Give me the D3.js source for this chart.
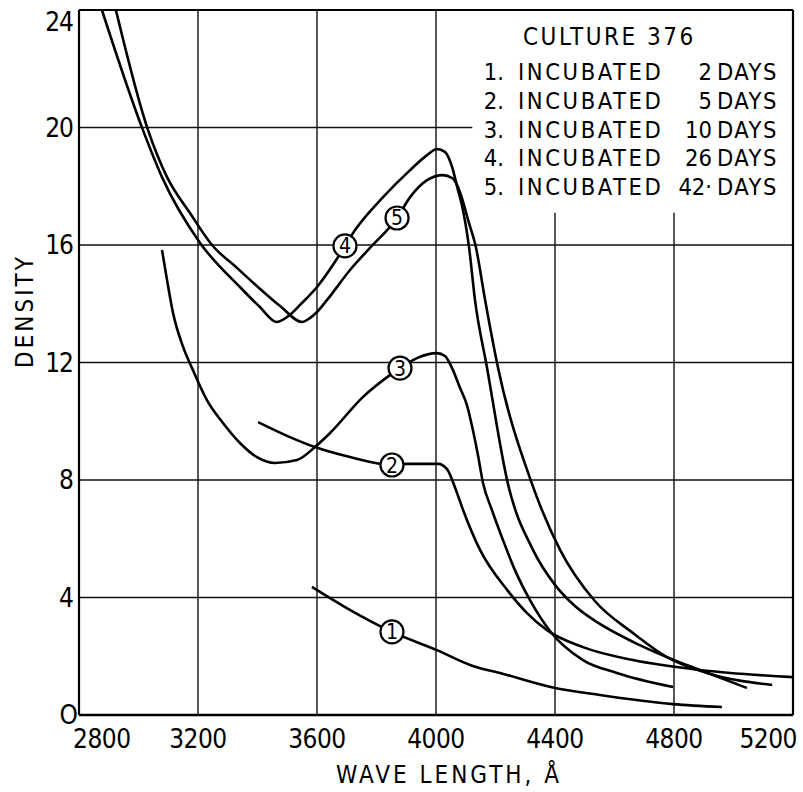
<!DOCTYPE html>
<html>
<head>
<meta charset="utf-8">
<script src="https://cdn.jsdelivr.net/npm/d3@7"></script>
<style>
  html, body { margin: 0; padding: 0; background: #fff; }
  svg { display: block; }
  text { font-family: "DejaVu Sans Condensed", "DejaVu Sans", sans-serif; fill: #000; }
</style>
</head>
<body>
<svg id="chart" width="803" height="792"></svg>
<script>
// ---- data ----
const waveTicks = [2800, 3200, 3600, 4000, 4400, 4800, 5200];
const waveTickLabels = ["2800", "3200", "3600", "4000", "4400", "4800", "5200"];
const densityTicks = [0, 4, 8, 12, 16, 20, 24];
const densityTickLabels = ["O", "4", "8", "12", "16", "20", "24"];

const curve1 = [[3583,4.36],[3700,3.64],[3852,2.83],[4003,2.21],[4124,1.67],[4215,1.43],[4400,0.92],[4551,0.68],[4797,0.37],[4961,0.27]];
const curve2 = [[3402,9.97],[3509,9.46],[3593,9.12],[3711,8.78],[3852,8.51],[3902,8.55],[4007,8.55],[4037,8.37],[4067,7.66],[4091,6.98],[4148,5.62],[4239,4.26],[4306,3.47],[4373,2.89],[4494,2.31],[4662,1.87],[4887,1.53],[5200,1.29]];
const curve3 = [[3079,15.83],[3096,14.8],[3116,13.69],[3150,12.53],[3183,11.74],[3230,10.72],[3284,9.94],[3341,9.26],[3398,8.78],[3459,8.58],[3533,8.68],[3593,9.12],[3644,9.6],[3755,10.83],[3845,11.57],[3879,11.81],[3936,12.15],[4003,12.32],[4030,12.22],[4054,11.81],[4081,11.13],[4104,10.55],[4124,9.7],[4141,8.85],[4158,7.9],[4188,6.98],[4225,5.96],[4265,4.94],[4316,3.91],[4383,2.86],[4494,1.87],[4608,1.43],[4797,0.95]];
const curve4 = [[2877,24],[3015,19.91],[3079,18.31],[3207,16.07],[3341,14.57],[3408,13.89],[3465,13.38],[3509,13.62],[3543,13.96],[3600,14.57],[3660,15.42],[3694,15.97],[3728,16.51],[3822,17.63],[3913,18.55],[3970,19.06],[4003,19.27],[4030,19.17],[4054,18.66],[4074,17.87],[4087,17.36],[4111,15.93],[4131,14.13],[4171,11.85],[4242,7.86],[4326,5.62],[4400,4.43],[4467,3.71],[4551,3.1],[4662,2.49],[4776,1.97],[4887,1.53],[5045,0.92]];
const curve5 = [[2924,24],[3032,19.91],[3096,18.31],[3173,17.09],[3247,16.0],[3331,15.22],[3398,14.6],[3476,13.92],[3550,13.38],[3576,13.51],[3600,13.72],[3634,14.13],[3711,15.15],[3778,15.9],[3869,16.92],[3913,17.63],[3970,18.21],[4023,18.38],[4054,18.28],[4074,17.97],[4087,17.6],[4108,16.85],[4134,15.93],[4165,14.13],[4208,11.85],[4323,7.86],[4417,5.62],[4534,3.88],[4662,2.79],[4776,1.97],[4911,1.43],[5130,1.02]];

const circleLabels = ["1", "2", "3", "4", "5"];
const circleWave = [3852, 3852, 3879, 3694, 3869];
const circleDensity = [2.83, 8.51, 11.81, 15.97, 16.92];

const legendTitle = "CULTURE 376";
const legendNumbers = ["1.", "2.", "3.", "4.", "5."];
const legendWord = "INCUBATED";
const legendDays = ["2", "5", "10", "26", "42·"];
const legendUnit = "DAYS";

const xTitle = "WAVE LENGTH, Å";
const yTitle = "DENSITY";

// ---- layout ----
const L = 79, R = 793, T = 10, B = 715;
const svg = d3.select("#chart");
const x = d3.scaleLinear().domain([2800, 5200]).range([L, R]);
const y = d3.scaleLinear().domain([0, 24]).range([B, T]);

const grid = svg.append("g").attr("stroke", "#111").attr("stroke-width", 1.4).attr("fill", "none");

// vertical grid lines (4400 and 4800 stop below the legend box)
const vStop = { 4400: 17.1, 4800: 17.1 };
waveTicks.slice(1, -1).forEach(t => {
  grid.append("line")
    .attr("x1", x(t)).attr("x2", x(t))
    .attr("y1", y(0)).attr("y2", y(vStop[t] !== undefined ? vStop[t] : 24));
});
// horizontal grid lines (20 stops at the legend)
const hStop = { 20: 4122 };
densityTicks.slice(1, -1).forEach(t => {
  grid.append("line")
    .attr("x1", x(2800)).attr("x2", x(hStop[t] !== undefined ? hStop[t] : 5200))
    .attr("y1", y(t)).attr("y2", y(t));
});

// frame
const frame = svg.append("g").attr("stroke", "#000").attr("fill", "none");
frame.append("line").attr("x1", x(2800)).attr("x2", x(5200)).attr("y1", y(24)).attr("y2", y(24)).attr("stroke-width", 2.2);
frame.append("line").attr("x1", x(2800)).attr("x2", x(5200)).attr("y1", y(0)).attr("y2", y(0)).attr("stroke-width", 2.6);
frame.append("line").attr("x1", x(2800)).attr("x2", x(2800)).attr("y1", y(0)).attr("y2", y(24)).attr("stroke-width", 2.2);
frame.append("line").attr("x1", x(5200)).attr("x2", x(5200)).attr("y1", y(0)).attr("y2", y(24)).attr("stroke-width", 2.2);

// tick labels
svg.append("g").selectAll("text").data(waveTicks).join("text")
  .attr("x", (d, i) => i === 0 ? x(d) - 6 : i === waveTicks.length - 1 ? x(d) + 4 : x(d))
  .attr("y", 748)
  .attr("text-anchor", (d, i) => i === 0 ? "start" : i === waveTicks.length - 1 ? "end" : "middle")
  .attr("style", "font-size:26px;letter-spacing:-0.5px")
  .text((d, i) => waveTickLabels[i]);

svg.append("g").selectAll("text").data(densityTicks).join("text")
  .attr("x", d => d === 0 ? 77 : 73)
  .attr("y", d => d === 24 ? y(d) + 21 : y(d) + 9)
  .attr("text-anchor", "end")
  .attr("style", "font-size:26px;letter-spacing:-1px")
  .text((d, i) => densityTickLabels[i]);

// axis titles
svg.append("text").attr("x", 449).attr("y", 783).attr("text-anchor", "middle")
  .attr("style", "font-size:24px;letter-spacing:3px").text(xTitle);
svg.append("text").attr("transform", "translate(33,311) rotate(-90)").attr("text-anchor", "middle")
  .attr("style", "font-size:24px;letter-spacing:3px").text(yTitle);

// curves
svg.append("clipPath").attr("id", "plotClip").append("rect")
  .attr("x", L).attr("y", T).attr("width", R - L).attr("height", B - T);
const line = d3.line().x(d => x(d[0])).y(d => y(d[1])).curve(d3.curveMonotoneX);
const curves = [curve1, curve2, curve3, curve4, curve5];
svg.append("g").attr("clip-path", "url(#plotClip)")
  .selectAll("path").data(curves).join("path")
  .attr("d", line)
  .attr("fill", "none").attr("stroke", "#000").attr("stroke-width", 2.6)
  .attr("stroke-linejoin", "round").attr("stroke-linecap", "butt");

// circled labels
const cg = svg.append("g").selectAll("g").data(circleLabels).join("g")
  .attr("transform", (d, i) => `translate(${x(circleWave[i])},${y(circleDensity[i])})`);
cg.append("circle").attr("r", 11.5).attr("fill", "#fff").attr("stroke", "#000").attr("stroke-width", 2.2);
cg.append("text").attr("text-anchor", "middle").attr("y", 7.5)
  .attr("style", "font-size:21px").text(d => d);

// legend
svg.append("text").attr("x", 523).attr("y", 45).attr("style", "font-size:24px;letter-spacing:2.5px").text(legendTitle);
const rowY = [80, 109, 138, 166, 195];
const lg = svg.append("g").attr("style", "font-size:23.5px");
lg.selectAll("text.num").data(legendNumbers).join("text").attr("class", "num")
  .attr("x", 504).attr("y", (d, i) => rowY[i]).attr("text-anchor", "end").text(d => d);
lg.selectAll("text.word").data(legendNumbers).join("text").attr("class", "word")
  .attr("x", 518).attr("y", (d, i) => rowY[i]).attr("style", "letter-spacing:2.6px").text(legendWord);
lg.selectAll("text.days").data(legendDays).join("text").attr("class", "days")
  .attr("x", 712).attr("y", (d, i) => rowY[i]).attr("text-anchor", "end").text(d => d);
lg.selectAll("text.unit").data(legendNumbers).join("text").attr("class", "unit")
  .attr("x", 717).attr("y", (d, i) => rowY[i]).attr("style", "letter-spacing:1.5px").text(legendUnit);
</script>
</body>
</html>
